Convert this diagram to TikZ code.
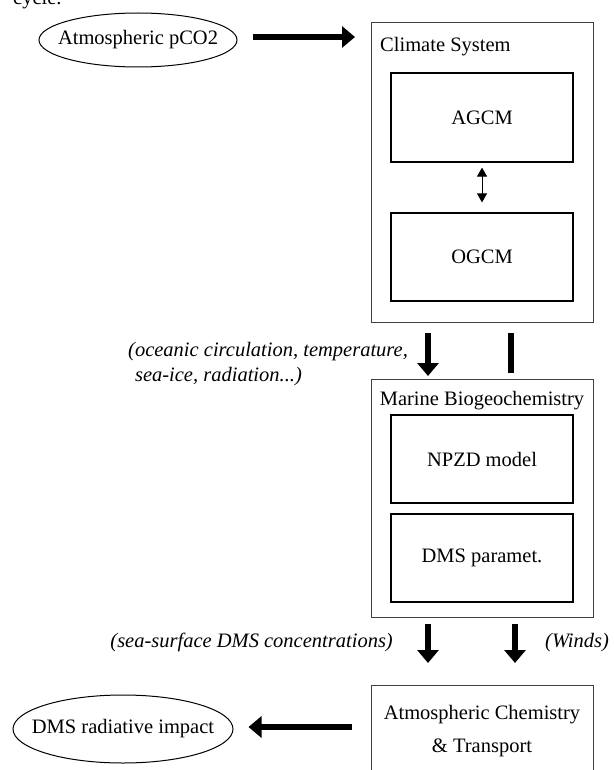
\documentclass[tikz,border=0pt]{standalone}
\usepackage{fontspec}
\setmainfont{Liberation Serif}
\usetikzlibrary{arrows.meta,calc,shapes.geometric}
\begin{document}
\begin{tikzpicture}[x=1pt,y=-1pt,
  every node/.style={font=\fontsize{20.5}{24}\selectfont, inner sep=0pt},
  outerbox/.style={draw=black!75, line width=1.2pt, anchor=north west},
  innerbox/.style={draw=black, line width=1.2pt},
  ell/.style={ellipse, draw=black, line width=1pt, inner sep=-18pt},
  fat/.style={line width=5.5pt, -{Triangle[length=13pt,width=21pt]}},
  fatline/.style={line width=5.5pt},
  thinarr/.style={line width=1pt, {Triangle[length=9pt,width=10pt]}-{Triangle[length=9pt,width=10pt]}},
  lab/.style={font=\fontsize{20.5}{25}\selectfont\itshape}
]
\clip (0,0) rectangle (613,770);
\fill[white] (0,0) rectangle (613,770);

% cut-off text at top
\node[anchor=base west] (cyc) at (13,5) {cycle.};

% Atmospheric pCO2
\node[ell, minimum width=198pt, minimum height=54pt] (pco2) at (138,40) {Atmospheric pCO2};

% Climate system
\node[outerbox, minimum width=222pt, minimum height=300pt] (clim) at (371,22) {};
\node[anchor=base west] (climlab) at (380,52) {Climate System};
\node[innerbox, minimum width=182pt, minimum height=89pt] (agcm) at (482,117.5) {AGCM};
\node[innerbox, minimum width=182pt, minimum height=88pt] (ogcm) at (482,257) {OGCM};
\draw[thinarr] ([yshift=-5pt]agcm.south) -- ([yshift=10pt]ogcm.north);

\coordinate (a1s) at ($(pco2.east)+(15,-3)$);
\coordinate (a1e) at ($(pco2.east -| clim.west)+(-16,-3)$);
\draw[fat] (a1s) -- (a1e);

% Marine biogeochemistry
\node[outerbox, minimum width=222pt, minimum height=238pt] (mar) at (371,379) {};
\node[anchor=base] (marlab) at (482,405) {Marine Biogeochemistry};
\node[innerbox, minimum width=182pt, minimum height=88pt] (npzd) at (482,459) {NPZD model};
\node[innerbox, minimum width=182pt, minimum height=88pt] (dms) at (482,558) {DMS paramet.};

% arrows climate -> marine
\coordinate (c1s) at ($(clim.south west)+(57,10)$);
\coordinate (c1e) at ($(mar.north west)+(57,-3)$);
\draw[fat] (c1s) -- (c1e);
\coordinate (c2s) at ($(clim.south west)+(140,10)$);
\coordinate (c2e) at ($(mar.north west)+(140,-6)$);
\draw[fatline] (c2s) -- (c2e);
\node[lab, anchor=base west, align=left] (ocean) at (128,381) {(oceanic circulation, temperature,\\\phantom{(}sea-ice, radiation...)};

% Atmospheric chemistry
\node[outerbox, minimum width=222pt, minimum height=120pt] (chem) at (371,685) {};
\node[anchor=base] (chem1) at (482,719) {Atmospheric Chemistry};
\node[anchor=base] (chem2) at (482,752) {\& Transport};

% arrows marine -> chem
\coordinate (m1s) at ($(mar.south west)+(57,6)$);
\coordinate (m1e) at ($(chem.north west)+(57,-22)$);
\draw[fat] (m1s) -- (m1e);
\coordinate (m2s) at ($(mar.south west)+(144,6)$);
\coordinate (m2e) at ($(chem.north west)+(144,-22)$);
\draw[fat] (m2s) -- (m2e);
\node[lab, anchor=base east] (sst) at (393,647) {(sea-surface DMS concentrations)};
\node[lab, anchor=base west] (winds) at (545,647) {(Winds)};

% DMS radiative impact
\node[ell, minimum width=220pt, minimum height=68pt] (rad) at (123,729) {DMS radiative impact};
\coordinate (r1s) at ($(chem.west |- rad.east)+(-19,-2)$);
\coordinate (r1e) at ($(rad.east)+(15,-2)$);
\draw[fat] (r1s) -- (r1e);
\end{tikzpicture}
\end{document}
